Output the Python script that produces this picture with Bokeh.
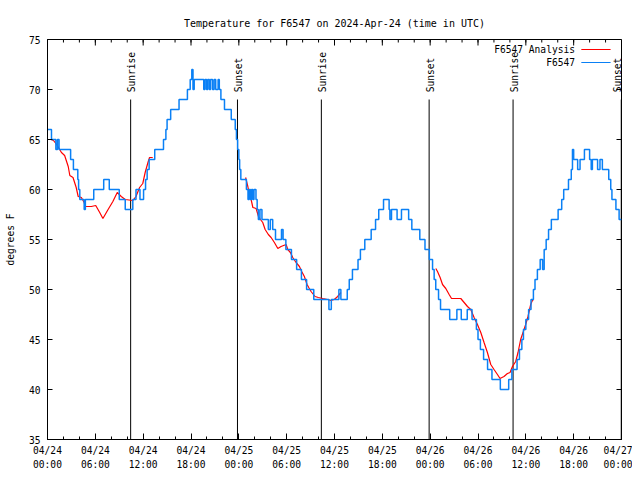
import math
from bokeh.plotting import figure
from bokeh.models import FixedTicker, Range1d, Label
from bokeh.core.properties import value
from bokeh.embed import file_html
from bokeh.resources import INLINE

# ---- data (x = hours since 2024-04-24 00:00 UTC) ----
title_text = "Temperature for F6547 on 2024-Apr-24 (time in UTC)"
y_label = "degrees F"

tick_hours = [0, 6, 12, 18, 24, 30, 36, 42, 48, 54, 60, 66, 72]
tick_labels = ["04/24\n00:00", "04/24\n06:00", "04/24\n12:00", "04/24\n18:00",
               "04/25\n00:00", "04/25\n06:00", "04/25\n12:00", "04/25\n18:00",
               "04/26\n00:00", "04/26\n06:00", "04/26\n12:00", "04/26\n18:00",
               "04/27\n00:00"]
minor_hours = list(range(0, 73, 2))
y_ticks = [35, 40, 45, 50, 55, 60, 65, 70, 75]

event_hours = [10.43, 23.83, 34.35, 47.87, 58.40, 71.97]
event_labels = ["Sunrise", "Sunset", "Sunrise", "Sunset", "Sunrise", "Sunset"]

# observed station temperature (value holds from each time to the next)
obs_hours = [0.0, 0.5, 1.05, 1.25, 1.45, 2.9, 3.25, 3.8, 3.9, 4.05, 4.6, 4.75,
             5.8, 7.05, 7.75, 9.0, 9.75, 10.7, 11.1, 11.6, 12.05, 12.3, 12.5,
             12.75, 13.45, 14.55, 14.85, 15.0, 15.45, 16.5, 17.55, 17.9, 18.1,
             18.25, 18.4, 19.6, 19.75, 19.95, 20.1, 20.3, 20.45, 20.7, 20.9,
             21.1, 21.4, 21.55, 21.75, 22.2, 23.05, 23.55, 23.7, 23.85, 24.0,
             24.1, 24.25, 24.95, 25.15, 25.3, 25.45, 25.6, 25.75, 25.9, 26.15,
             26.3, 26.45, 26.65, 26.9, 27.7, 27.95, 28.25, 28.6, 29.35, 29.55,
             29.9, 30.6, 31.25, 31.85, 32.5, 33.4, 35.3, 35.6, 36.55, 36.8,
             37.6, 37.85, 38.25, 38.95, 39.25, 39.8, 40.6, 41.15, 41.55, 42.15,
             42.85, 42.95, 43.15, 43.85, 44.4, 45.3, 45.7, 46.7, 47.35, 47.9,
             48.3, 48.5, 48.7, 49.05, 49.3, 50.45, 51.35, 51.9, 52.65, 53.25,
             53.8, 54.0, 54.3, 54.7, 55.2, 55.75, 56.8, 57.85, 58.25, 58.9,
             59.2, 59.5, 59.7, 60.0, 60.35, 60.65, 60.95, 61.15, 61.45, 61.8,
             62.1, 62.3, 62.55, 62.85, 63.2, 64.05, 64.5, 64.75, 65.35, 65.7,
             65.85, 66.0, 66.5, 66.8, 67.35, 68.0, 68.2, 68.35, 69.0, 69.3,
             69.6, 70.4, 70.65, 70.8, 71.3, 71.7, 72.0]
obs_temps = [66, 65, 64, 65, 64, 63, 62, 61, 60, 59, 58, 59,
             60, 61, 60, 59, 58, 59, 60, 59, 60, 61, 62,
             63, 64, 65, 66, 67, 68, 69, 70, 71, 72,
             70, 71, 70, 71, 70, 71, 70, 71, 70, 71,
             70, 71, 70, 69, 68, 67, 66, 65, 64, 63,
             62, 61, 60, 59, 60, 59, 60, 59, 60, 59,
             58, 57, 58, 57, 56, 57, 56, 55, 56, 55,
             54, 53, 52, 51, 50, 49, 48, 49, 50, 49,
             50, 51, 52, 53, 54, 55, 56, 57, 58, 59,
             58, 57, 58, 57, 58, 57, 56, 55, 54, 53,
             52, 51, 50, 49, 48, 47, 48, 47, 48, 47,
             46, 45, 44, 43, 42, 41, 40, 41, 42, 43,
             44, 45, 46, 47, 48, 49, 50, 51, 52, 53,
             52, 54, 55, 56, 57, 58, 59, 60, 61, 62,
             64, 63, 62, 63, 64, 63, 62, 63, 62, 63,
             62, 61, 60, 59, 58, 57, 57]

# analysis series (three night-time pieces, NaN separates them)
nan = float("nan")
ana_hours = [0.45, 0.75, 1.15, 1.75, 2.15, 2.6, 2.8, 3.2, 3.6, 3.85, 4.25, 4.6,
             4.75, 5.5, 6.05, 6.55, 6.95, 7.6, 8.2, 8.75, 9.25, 9.75, 10.7,
             11.1, 11.55, 11.95, 12.25, 12.6, 12.8, 13.2,
             nan,
             24.85, 25.13, 25.33, 25.54, 25.76, 26.17, 26.46, 26.71, 27.0,
             27.3, 27.7, 28.05, 28.46, 28.89, 29.3, 29.93, 30.14, 30.47, 30.76,
             31.18, 31.6, 31.89, 32.22, 32.56, 32.77, 33.06, 33.56, 33.97,
             34.52, 35.15, 35.56, 35.97, 36.4, 36.81,
             nan,
             48.71, 48.92, 49.25, 49.55, 49.96, 50.38, 50.68, 51.84, 52.26,
             52.68, 53.09, 53.51, 53.93, 54.35, 54.76, 55.18, 55.6, 56.01,
             56.44, 56.76, 57.26, 57.69, 58.02, 58.32, 58.73, 59.02, 59.35,
             59.69, 59.98, 60.27, 60.61, 60.82, 60.94]
ana_temps = [65.0, 64.9, 64.5, 63.7, 63.4, 62.3, 61.4, 61.2, 60.2, 59.3, 59.2, 58.7,
             58.3, 58.3, 58.4, 57.7, 57.1, 58.0, 58.8, 59.7, 59.3, 59.0, 58.9,
             59.3, 60.2, 60.6, 61.7, 62.7, 63.2, 63.2,
             nan,
             61.2, 60.3, 59.5, 59.0, 58.2, 58.1, 57.3, 57.0, 56.7,
             56.0, 55.5, 55.2, 54.7, 54.1, 54.3, 54.5, 54.0, 53.7, 53.2,
             52.7, 52.3, 51.8, 51.3, 50.5, 50.2, 49.8, 49.3, 49.2,
             49.1, 49.0, 48.9, 49.0, 49.3, 49.7,
             nan,
             52.1, 51.8, 51.2, 50.5, 50.1, 49.5, 49.1, 49.1, 48.7,
             48.3, 48.0, 47.2, 46.5, 45.7, 44.7, 43.7, 42.5, 42.0,
             41.5, 41.1, 41.3, 41.6, 41.7, 42.3, 42.8, 43.7, 45.0,
             45.8, 46.5, 47.3, 48.5, 48.9, 49.0]

legend_labels = ["F6547 Analysis", "F6547"]
legend_colors = ["#ff0000", "#0a80f5"]

# ---- figure ----
FONT = "DejaVu Sans Mono"
FS = "9.6px"
X0, X1, Y0, Y1 = 0, 72, 35, 75

p = figure(width=632, height=472, x_range=Range1d(X0, X1), y_range=Range1d(Y0, Y1),
           output_backend="svg", toolbar_location=None,
           min_border_left=47, min_border_right=11, min_border_top=39,
           min_border_bottom=32, background_fill_color="white",
           border_fill_color="white")
p.grid.visible = False
p.outline_line_color = "black"
p.outline_line_alpha = 1.0

p.title.text = title_text
p.title.align = "center"
p.title.text_font = FONT
p.title.text_font_size = "10px"
p.title.text_font_style = "normal"
p.title.text_color = "black"
p.title.standoff = 21

xt = FixedTicker(ticks=tick_hours, minor_ticks=minor_hours)
yt = FixedTicker(ticks=y_ticks, minor_ticks=[])

def style_axis(ax, major_in):
    ax.axis_line_color = "black"
    ax.major_tick_line_color = "black"
    ax.minor_tick_line_color = "black"
    ax.major_tick_in = major_in
    ax.major_tick_out = 0
    ax.minor_tick_in = 3
    ax.minor_tick_out = 0
    ax.major_label_text_font = FONT
    ax.major_label_text_font_size = FS
    ax.major_label_text_color = "black"

xa = p.xaxis[0]
xa.ticker = xt
xa.major_label_overrides = {t: l for t, l in zip(tick_hours, tick_labels)}
style_axis(xa, 6)
xa.major_label_standoff = 5
xa.major_label_text_line_height = 1.28

ya = p.yaxis[0]
ya.ticker = yt
style_axis(ya, 5)
ya.major_label_standoff = 7
ya.axis_label = y_label
ya.axis_label_text_font = FONT
ya.axis_label_text_font_size = FS
ya.axis_label_text_font_style = "normal"
ya.axis_label_text_color = "black"
ya.axis_label_standoff = 10

# mirrored tick marks on the top and right edges (gnuplot "mirror")
p.ray(x=tick_hours, y=[Y1] * len(tick_hours), length=6, length_units="screen",
      angle=-math.pi / 2, line_color="black", line_width=1)
p.ray(x=minor_hours, y=[Y1] * len(minor_hours), length=3, length_units="screen",
      angle=-math.pi / 2, line_color="black", line_width=1)
p.ray(x=[X1] * len(y_ticks), y=y_ticks, length=5, length_units="screen",
      angle=math.pi, line_color="black", line_width=1)

# sunrise / sunset markers (drawn to 85% of the plot height)
top_line = Y0 + 0.85 * (Y1 - Y0)
top_text = Y0 + 0.868 * (Y1 - Y0)
p.segment(x0=event_hours, y0=[Y0] * len(event_hours), x1=event_hours,
          y1=[top_line] * len(event_hours), line_color="black", line_width=1)
for ex, et in zip(event_hours, event_labels):
    # keep a label that sits on the right border inside the plot area
    off = -4 if ex > X1 - 0.3 else 1
    p.add_layout(Label(x=ex, y=top_text, text=et, angle=math.pi / 2,
                       text_align="left", text_baseline="middle", x_offset=off,
                       text_font=FONT, text_font_size=FS, text_color="black"))

# series
p.line(ana_hours, ana_temps, line_color=legend_colors[0], line_width=1.2)
p.step(obs_hours, obs_temps, mode="after", line_color=legend_colors[1], line_width=1.5)

# legend (gnuplot style: label, then sample line)
leg_text_x = X0 + 0.919 * (X1 - X0)
leg_line_x0 = X0 + 0.930 * (X1 - X0)
leg_line_x1 = X0 + 0.981 * (X1 - X0)
leg_y = [Y0 + 0.975 * (Y1 - Y0), Y0 + 0.9425 * (Y1 - Y0)]
p.text(x=[leg_text_x] * 2, y=leg_y, text=legend_labels, text_align="right",
       text_baseline="middle", text_font=value(FONT), text_font_size=FS,
       text_color="black")
p.segment(x0=[leg_line_x0] * 2, y0=leg_y, x1=[leg_line_x1] * 2, y1=leg_y,
          line_color=legend_colors, line_width=1.2)

open("out.html", "w").write(file_html(p, INLINE))
